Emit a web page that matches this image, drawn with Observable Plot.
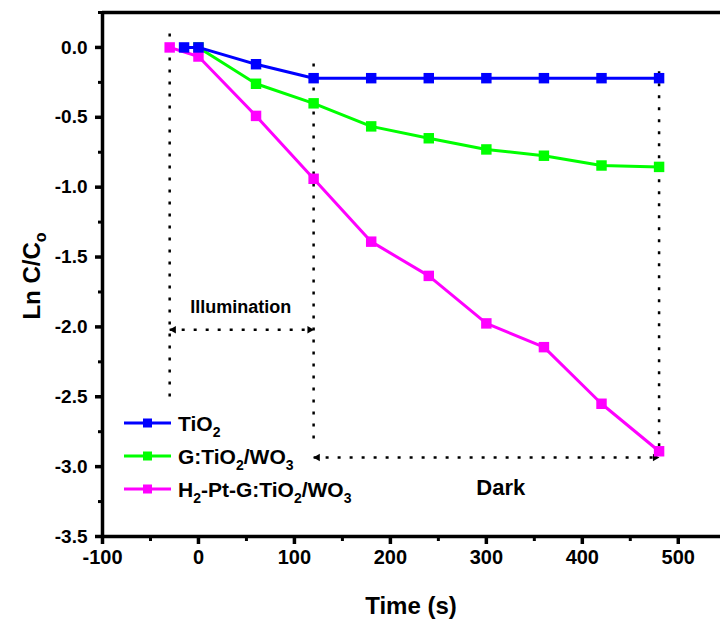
<!DOCTYPE html>
<html><head><meta charset="utf-8">
<script src="https://cdn.jsdelivr.net/npm/d3@7"></script>
<script src="https://cdn.jsdelivr.net/npm/@observablehq/plot@0.6"></script>
<style>body{margin:0;background:#fff} #chart{width:720px;height:619px}</style>
</head><body><div id="chart"></div>
<script>
// ---- data ----
const seriesNames = ["TiO2", "G:TiO2/WO3", "H2-Pt-G:TiO2/WO3"];
const seriesColors = ["#0000ff", "#00ff00", "#ff00ff"];

const tio2Time = [-15, 0, 60, 120, 180, 240, 300, 360, 420, 480];
const tio2Value = [0, 0, -0.12, -0.22, -0.22, -0.22, -0.22, -0.22, -0.22, -0.22];

const gTime = [0, 60, 120, 180, 240, 300, 360, 420, 480];
const gValue = [0, -0.26, -0.40, -0.565, -0.65, -0.73, -0.775, -0.845, -0.855];

const hTime = [-30, 0, 60, 120, 180, 240, 300, 360, 420, 480];
const hValue = [0, -0.065, -0.49, -0.94, -1.39, -1.635, -1.975, -2.145, -2.55, -2.89];

const xMajor = [-100, 0, 100, 200, 300, 400, 500];
const xMinor = [-50, 50, 150, 250, 350, 450];
const yMajor = [0, -0.5, -1, -1.5, -2, -2.5, -3, -3.5];
const yMinor = [0.25, -0.25, -0.75, -1.25, -1.75, -2.25, -2.75, -3.25];

// annotation guides (time, top value, bottom value)
const guideTime = [-30, 120, 480];
const guideTop = [0.1, -0.115, -0.17];
const guideBottom = [-2.5, -2.86, -2.88];
// double arrows (from, to, level)
const arrowFrom = [-30, 120];
const arrowTo = [120, 480];
const arrowLevel = [-2.02, -2.935];
const annoText = ["Illumination", "Dark"];
const annoTime = [44, 315];
const annoValue = [-1.86, -3.15];
const annoSize = [18, 22];

const toRows = (t, v) => t.map((x, i) => ({x, y: v[i]}));
const tio2 = toRows(tio2Time, tio2Value);
const gData = toRows(gTime, gValue);
const hData = toRows(hTime, hValue);
const guides = guideTime.map((t, i) => ({t, y1: guideTop[i], y2: guideBottom[i]}));
const arrows = arrowFrom.map((a, i) => ({a, b: arrowTo[i], y: arrowLevel[i]}));
const annos = annoText.map((s, i) => ({s, x: annoTime[i], y: annoValue[i], size: annoSize[i]}));

const font = "'Liberation Sans', Arial, Helvetica, sans-serif";
const dots = {strokeDasharray: "3,9", strokeWidth: 2.5, stroke: "#000"};

const plot = Plot.plot({
  width: 720, height: 619,
  marginLeft: 102, marginRight: 0, marginTop: 12, marginBottom: 83,
  style: {fontFamily: font, fontWeight: "bold", background: "#fff", overflow: "visible"},
  x: {domain: [-100, 544]},
  y: {domain: [-3.5, 0.25]},
  marks: [
    // dotted guides
    Plot.link(guides, {x1: "t", x2: "t", y1: "y1", y2: "y2", ...dots}),
    Plot.link(arrows, {x1: "a", x2: "b", y1: "y", y2: "y", ...dots}),
    Plot.dot(arrows, {x: "a", y: "y", symbol: "triangle2", r: 3.6, fill: "#000", rotate: -90, dx: 4}),
    Plot.dot(arrows, {x: "b", y: "y", symbol: "triangle2", r: 3.6, fill: "#000", rotate: 90, dx: -4}),
    Plot.text(annos, {x: "x", y: "y", text: "s", fontSize: "size", fontWeight: "bold", fill: "#000"}),
    // series
    Plot.line(gData, {x: "x", y: "y", stroke: seriesColors[1], strokeWidth: 3}),
    Plot.dot(gData, {x: "x", y: "y", symbol: "square", r: 5.9, fill: seriesColors[1]}),
    Plot.line(hData, {x: "x", y: "y", stroke: seriesColors[2], strokeWidth: 3}),
    Plot.dot(hData, {x: "x", y: "y", symbol: "square", r: 5.9, fill: seriesColors[2]}),
    Plot.line(tio2, {x: "x", y: "y", stroke: seriesColors[0], strokeWidth: 3}),
    Plot.dot(tio2, {x: "x", y: "y", symbol: "square", r: 5.9, fill: seriesColors[0]}),
    // axes
    Plot.axisX({ticks: xMajor, tickSize: 8, tickPadding: 5, tickFormat: d => String(d),
      fontSize: 20, fontWeight: "bold", strokeWidth: 3.5, label: null}),
    Plot.axisX({ticks: xMinor, tickSize: 5, tickFormat: () => "", strokeWidth: 3, label: null}),
    Plot.axisY({ticks: yMajor, tickSize: 7, tickPadding: 8, tickFormat: d => d.toFixed(1),
      fontSize: 19, fontWeight: "bold", strokeWidth: 3.5, label: null}),
    Plot.axisY({ticks: yMinor, tickSize: 4, tickFormat: () => "", strokeWidth: 3, label: null}),
    Plot.ruleX([-100], {strokeWidth: 3.5}),
    Plot.ruleY([-3.5], {strokeWidth: 3.5}),
    Plot.ruleY([0.25], {strokeWidth: 3.5})
  ]
});
document.getElementById("chart").appendChild(plot);

// ---- titles and legend with subscripts ----
const svg = d3.select(plot);
function richText(g, parts, size, subSize) {
  // parts: array of [text, baseline shift in px]
  parts.forEach(([s, kind], i) => {
    const prev = i > 0 ? parts[i - 1][1] : 0;
    const t = g.append("tspan").text(s).attr("font-size", kind ? subSize : size);
    const shift = (kind || 0) - (prev || 0);
    if (shift) t.attr("dy", shift);
  });
}
svg.append("text").attr("x", 411).attr("y", 614).attr("text-anchor", "middle")
  .attr("font-size", 24).attr("font-weight", "bold").attr("fill", "#000").text("Time (s)");
const yl = svg.append("text").attr("transform", "translate(40,276) rotate(-90)")
  .attr("text-anchor", "middle").attr("font-weight", "bold").attr("fill", "#000");
richText(yl, [["Ln C/C", 0], ["o", 6]], 24, 16);

const legendParts = [
  [["TiO", 0], ["2", 6]],
  [["G:TiO", 0], ["2", 6], ["/WO", 0], ["3", 6]],
  [["H", 0], ["2", 6], ["-Pt-G:TiO", 0], ["2", 6], ["/WO", 0], ["3", 6]]
];
const legendRowY = [423, 456, 489];
[0, 1, 2].forEach(i => {
  const y = legendRowY[i];
  const g = svg.append("g");
  g.append("line").attr("x1", 124).attr("x2", 171).attr("y1", y).attr("y2", y)
    .attr("stroke", seriesColors[i]).attr("stroke-width", 3);
  g.append("rect").attr("x", 147.5 - 4.5).attr("y", y - 4.5).attr("width", 9).attr("height", 9)
    .attr("fill", seriesColors[i]);
  const t = g.append("text").attr("x", 178).attr("y", y + 7.5)
    .attr("text-anchor", "start").attr("font-weight", "bold").attr("fill", "#000");
  richText(t, legendParts[i], 21, 14);
});
</script>
</body></html>
